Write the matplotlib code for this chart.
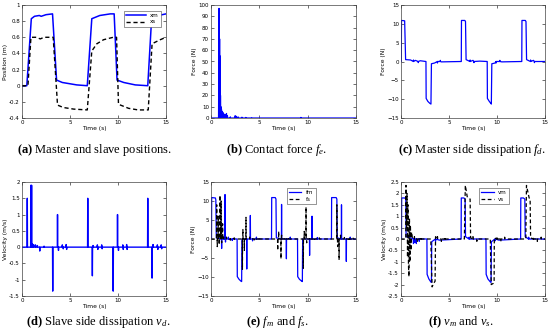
import matplotlib
matplotlib.use("Agg")
import matplotlib.pyplot as plt
import numpy as np

plt.rcParams["font.family"] = ["DejaVu Sans"]
plt.rcParams["mathtext.fontset"] = "custom"
plt.rcParams["mathtext.rm"] = "Liberation Serif"
plt.rcParams["mathtext.it"] = "Liberation Serif:italic"
plt.rcParams["mathtext.bf"] = "Liberation Serif:bold"

# (a) positions
xm_t = [0, 0.5, 0.97, 1.3, 1.8, 2.0, 2.5, 3.18, 3.6, 4.2, 5.7, 6.8, 7.27, 8.1, 9.2, 9.6, 9.9, 10.6, 11.8, 13.1, 13.5, 14.2, 15]
xm = [0, 0, 0.83, 0.86, 0.87, 0.86, 0.88, 0.89, 0.07, 0.04, 0.01, 0.0, 0.83, 0.87, 0.89, 0.89, 0.07, 0.04, 0.01, 0.0, 0.83, 0.87, 0.89]
xs_t = [0, 0.62, 0.93, 1.5, 1.9, 2.3, 3.25, 3.7, 4.3, 5.4, 6.8, 7.27, 7.8, 8.5, 9.5, 9.85, 10.05, 11.1, 12.1, 13.15, 13.55, 14.4, 15]
xs = [0, 0, 0.6, 0.6, 0.58, 0.6, 0.6, -0.24, -0.27, -0.29, -0.3, 0.43, 0.52, 0.57, 0.6, 0.6, -0.23, -0.28, -0.3, -0.3, 0.52, 0.57, 0.6]

# (b) contact force spikes
fe_st = [0.80, 0.83, 0.86, 0.89, 0.92, 0.95, 0.98, 1.02, 1.08, 1.15, 1.22, 1.3, 1.45, 1.6, 1.7, 2.0, 2.5, 2.6, 2.8, 3.2, 3.6, 4.2, 9.3]
fe_sh = [40, 97, 85, 70, 55, 25, 20, 10, 8, 6, 5, 4, 3, 4, 2, 1, 2, 1.5, 1, 0.7, 0.5, 0.3, 0.5]

# (c) master side dissipation
fd_t = [0, 0.03, 0.05, 0.38, 0.48, 1.0, 1.5, 2.0, 2.6, 2.62, 2.8, 3.0, 3.12, 3.17, 3.5, 4.2, 6.28, 6.3, 6.65,
        6.72, 6.78, 7.5, 8.2, 8.98, 9.0, 9.2, 9.35, 9.41, 9.46, 9.8, 10.5, 12.58, 12.6, 12.95, 13.02, 13.08, 13.8, 15]
fd = [0, 0, 10.9, 10.8, 0.5, 0.4, 0.3, 0.2, 0.0, -9.8, -10.6, -11.1, -11.3, -0.6, -0.4, -0.1, 0, 10.9, 10.9,
      10.6, 0.5, 0.3, 0.1, 0, -9.8, -10.6, -11.1, -11.3, -0.6, -0.4, -0.1, 0, 10.9, 10.9, 10.6, 0.5, 0.3, 0.0]
fd_st = [1.3, 1.8, 3.8, 4.1, 7.2, 7.6, 9.9, 10.3, 13.5, 13.9]
fd_sh = [0.4, -0.3, -0.4, 0.3, 0.4, -0.3, -0.4, 0.3, 0.4, -0.3]

# (d) slave side dissipation
vd_st = [0.55, 0.92, 1.0, 1.05, 1.2, 1.4, 1.6, 1.85, 2.3, 3.2, 3.7, 3.8, 4.2, 4.3, 4.6, 4.65, 6.85, 7.33, 7.4,
         7.85, 7.9, 8.3, 8.35, 9.5, 9.95, 10.05, 10.5, 10.55, 10.9, 10.95, 13.1, 13.55, 13.65, 14.1, 14.15, 14.5, 14.55]
vd_sh = [1.5, 1.9, 1.9, 0.1, 0.08, 0.07, 0.05, -0.12, 0.03, -1.35, 1.0, -0.1, 0.07, -0.05, 0.08, -0.07, 1.5, -0.88, 0.05,
         0.07, -0.07, 0.07, -0.05, -1.35, 1.0, -0.1, 0.07, -0.07, 0.08, -0.07, 1.5, -0.95, 0.08, 0.07, -0.07, 0.07, -0.05]

# (e) forces
fm_t = [0, 0.05, 0.07, 0.45, 0.5, 0.55, 2.7, 2.72, 2.9, 3.1, 3.17, 3.2, 6.26, 6.28, 6.65, 6.72, 6.76,
        8.95, 8.97, 9.15, 9.38, 9.45, 9.48, 12.46, 12.48, 12.95, 13.02, 13.06, 15]
fm = [0, 0, 10.9, 10.8, 10.3, 0.3, 0, -9.9, -10.6, -11.1, -11.2, 0, 0, 10.9, 10.9, 10.5, 0.3,
      0, -9.9, -10.6, -11.1, -11.2, 0, 0, 10.9, 10.9, 10.5, 0.3, 0]
fm_st = [1.1, 1.45, 1.5, 1.8, 2.2, 3.7, 4.07, 4.3, 4.7, 7.3, 7.8, 8.2, 10.2, 10.45, 11.0, 13.5, 14.0, 14.4]
fm_sh = [-2.5, 11.7, -0.8, 0.5, -0.4, -7.9, 6.2, -0.5, 0.5, 9.1, -5.2, 0.5, -4.3, 6.0, 0.4, 9.0, -5.9, 0.5]
fs_st = [0.59, 0.65, 0.75, 0.85, 0.93, 1.0, 1.05, 1.1, 1.2, 1.3, 1.6, 2.0, 2.4, 3.25, 3.3, 3.45, 3.62, 4.0, 4.5, 5.0,
         6.9, 7.0, 7.24, 7.3, 7.6, 8.0, 9.55, 9.65, 9.83, 9.9, 10.2, 10.7, 11.2, 13.02, 13.1, 13.25, 13.4, 13.8, 14.3, 14.7]
fs_sh = [9.0, -2.0, 6.0, -1.5, 11.5, 3.0, 10.0, -1.0, 4.0, 0.5, 0.5, -0.3, 0.3, -8.0, 2.5, -3.0, 5.7, 0.5, -0.4, 0.4,
         -3.0, 2.0, -5.2, 1.0, 0.4, -0.4, -7.7, 2.0, 8.4, -1.0, 0.4, -0.4, 0.3, 9.0, -2.0, -5.5, 1.0, 0.4, -0.5, 0.4]

# (f) velocities
vm_t = [0, 0.05, 0.07, 0.4, 0.5, 0.53, 1.0, 2.7, 2.72, 2.9, 3.1, 3.17, 3.2, 4.0, 6.26, 6.28, 6.55, 6.68, 6.72,
        8.85, 8.87, 9.05, 9.3, 9.38, 9.42, 10.2, 12.46, 12.48, 12.75, 12.9, 12.94, 15]
vm = [0, 0, 1.8, 1.8, 1.75, 0.1, 0.05, 0, -1.55, -1.75, -1.88, -1.9, -0.12, -0.05, 0, 1.8, 1.8, 1.75, 0.1,
      0, -1.55, -1.75, -1.88, -1.9, -0.12, -0.05, 0, 1.8, 1.8, 1.75, 0.1, 0]
vm_st = [1.3, 1.45, 1.6, 1.9, 3.6, 7.1, 9.8, 13.3]
vm_sh = [-0.2, -0.15, -0.2, -0.1, -0.1, 0.08, -0.08, 0.08]
vs_t = [0, 0.5, 0.52, 0.58, 0.63, 0.68, 0.73, 0.78, 0.83, 0.88, 0.93, 0.98, 1.03, 1.1, 1.2, 3.1, 3.24, 3.4, 3.55, 3.6,
        6.6, 6.7, 6.9, 7.2, 7.25, 9.3, 9.4, 9.6, 9.7, 9.72, 13.0, 13.07, 13.35, 13.45, 13.5, 15]
vs = [0, 0, 2.35, 0.5, 2.0, -0.8, 1.5, -1.2, -1.65, 0.9, -1.0, 0.6, -0.5, 0.3, 0, 0, -2.1, -1.95, -1.85, 0.1,
      0, 2.35, 1.85, 1.75, 0.05, 0, -2.0, -1.95, -1.9, 0.05, 0, 2.35, 1.8, 1.75, 0.05, 0]
vs_st = [1.4, 1.7, 2.1, 3.8, 4.2, 4.6, 7.5, 7.9, 10.0, 10.4, 10.8, 13.8, 14.2, 14.6]
vs_sh = [0.1, -0.1, 0.08, 0.1, -0.1, 0.08, 0.1, -0.1, 0.1, -0.1, 0.08, 0.1, -0.1, 0.08]

captions = [r"$\mathbf{(a)}$ Master and slave positions.",
            r"$\mathbf{(b)}$ Contact force $f_e$.",
            r"$\mathbf{(c)}$ Master side dissipation $f_d$.",
            r"$\mathbf{(d)}$ Slave side dissipation $v_d$.",
            r"$\mathbf{(e)}$ $f_m$ and $f_s$.",
            r"$\mathbf{(f)}$ $v_m$ and $v_s$."]

BLUE = "#0000ff"
DASH = (0, (3.0, 2.0))
W, H = 550.0, 336.0


def with_spikes(t, y, st, sh, w=0.015):
    pts = list(zip(t, y))
    for a, h in zip(st, sh):
        pts += [(a - w, 0.0), (a, h), (a + w, 0.0)]
    pts.sort(key=lambda p: p[0])
    arr = np.array(pts)
    return arr[:, 0], arr[:, 1]


def make_axes(fig, left, right, top, bottom):
    ax = fig.add_axes([left / W, 1 - bottom / H, (right - left) / W, (bottom - top) / H])
    ax.tick_params(direction="in", length=2, width=0.4, labelsize=4, pad=1.5,
                   top=True, right=True)
    for s in ax.spines.values():
        s.set_linewidth(0.5)
        s.set_color("#444444")
    ax.set_xlim(0, 15)
    ax.set_xticks([0, 5, 10, 15])
    ax.set_xlabel("Time (s)", fontsize=4.3, labelpad=1)
    return ax


fig = plt.figure(figsize=(5.5, 3.36), dpi=100)

cols = [(22, 166), (211, 356), (401, 545)]
rows = [(5, 118), (182, 296)]
# caption anchor (x px, alignment)
cap_pos = [(95, "center"), (277, "center"), (546, "right"),
           (98, "center"), (277, "center"), (461, "center")]
cap_y = [150, 322]

axs = []
for r, (top, bottom) in enumerate(rows):
    for c, (left, right) in enumerate(cols):
        axs.append(make_axes(fig, left, right, top, bottom))

# (a)
ax = axs[0]
ax.plot(xm_t, xm, color=BLUE, lw=1.1, label="xm")
ax.plot(xs_t, xs, color="k", lw=1.0, ls=DASH, label="xs")
ax.set_ylim(-0.4, 1.0)
ax.set_yticks(np.arange(-0.4, 1.01, 0.2))
ax.set_yticklabels(["-0.4", "-0.2", "0", "0.2", "0.4", "0.6", "0.8", "1"])
ax.set_ylabel("Position (m)", fontsize=4.3, labelpad=1)
leg = ax.legend(loc="upper right", bbox_to_anchor=(0.985, 0.975), fontsize=4, handlelength=3.5,
                fancybox=False, edgecolor="#444444", framealpha=1, borderpad=0.4, labelspacing=0.3)
leg.get_frame().set_linewidth(0.4)

# (b)
ax = axs[1]
t, y = with_spikes([0, 15], [0, 0], fe_st, fe_sh, w=0.02)
ax.plot(t, y, color=BLUE, lw=0.9)
ax.set_ylim(0, 100)
ax.set_yticks(np.arange(0, 101, 10))
ax.set_ylabel("Force (N)", fontsize=4.3, labelpad=1)

# (c)
ax = axs[2]
t, y = with_spikes(fd_t, fd, fd_st, fd_sh)
ax.plot(t, y, color=BLUE, lw=0.9)
ax.set_ylim(-15, 15)
ax.set_yticks(np.arange(-15, 16, 5))
ax.set_ylabel("Force (N)", fontsize=4.3, labelpad=1)

# (d)
ax = axs[3]
t, y = with_spikes([0, 15], [0, 0], vd_st, vd_sh, w=0.02)
ax.plot(t, y, color=BLUE, lw=1.0)
ax.set_ylim(-1.5, 2.0)
ax.set_yticks(np.arange(-1.5, 2.01, 0.5))
ax.set_yticklabels(["-1.5", "-1", "-0.5", "0", "0.5", "1", "1.5", "2"])
ax.set_ylabel("Velocity (m/s)", fontsize=4.3, labelpad=1)

# (e)
ax = axs[4]
t, y = with_spikes(fm_t, fm, fm_st, fm_sh)
ax.plot(t, y, color=BLUE, lw=0.9, label="fm")
t, y = with_spikes([0, 15], [0, 0], fs_st, fs_sh)
ax.plot(t, y, color="k", lw=0.9, ls=DASH, label="fs")
ax.set_ylim(-15, 15)
ax.set_yticks(np.arange(-15, 16, 5))
ax.set_ylabel("Force (N)", fontsize=4.3, labelpad=1)
leg = ax.legend(loc="upper right", bbox_to_anchor=(0.74, 0.975), fontsize=4, handlelength=2.2,
                fancybox=False, edgecolor="#444444", framealpha=1, borderpad=0.4, labelspacing=0.3)
leg.get_frame().set_linewidth(0.4)

# (f)
ax = axs[5]
t, y = with_spikes(vm_t, vm, vm_st, vm_sh)
ax.plot(t, y, color=BLUE, lw=0.9, label="vm")
t, y = with_spikes(vs_t, vs, vs_st, vs_sh)
ax.plot(t, y, color="k", lw=0.9, ls=DASH, label="vs")
ax.set_ylim(-2.5, 2.5)
ax.set_yticks(np.arange(-2.5, 2.51, 0.5))
ax.set_yticklabels(["-2.5", "-2", "-1.5", "-1", "-0.5", "0", "0.5", "1", "1.5", "2", "2.5"])
ax.set_ylabel("Velocity (m/s)", fontsize=4.3, labelpad=1)
leg = ax.legend(loc="upper right", bbox_to_anchor=(0.77, 0.975), fontsize=4, handlelength=2.2,
                fancybox=False, edgecolor="#444444", framealpha=1, borderpad=0.4, labelspacing=0.3)
leg.get_frame().set_linewidth(0.4)

for i, cap in enumerate(captions):
    x, ha = cap_pos[i]
    fig.text(x / W, 1 - cap_y[i // 3] / H, cap, ha=ha, va="center",
             fontsize=9, family="Liberation Serif")

fig.savefig("out.png", dpi=100)
